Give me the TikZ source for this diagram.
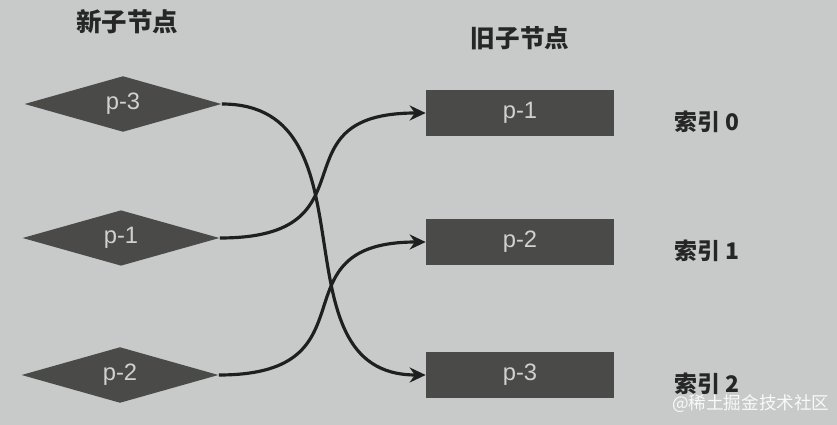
\documentclass[tikz,border=0pt]{standalone}
\usepackage{fontspec}
\setmainfont{Liberation Sans}
\newfontfamily\cjk{Noto Sans CJK SC}
\usetikzlibrary{shapes.geometric,arrows.meta}
\definecolor{paper}{RGB}{199,202,201}
\definecolor{ink}{RGB}{74,74,72}
\definecolor{pale}{RGB}{208,210,209}
\tikzset{
    newnode/.style={diamond, fill=ink, text=pale, inner sep=0pt,
        minimum width=3.94cm, minimum height=1.1cm, font=\fontsize{13.5}{15}\selectfont},
    oldnode/.style={rectangle, fill=ink, text=pale, inner sep=0pt,
        minimum width=3.76cm, minimum height=0.93cm, font=\fontsize{13.5}{15}\selectfont},
    link/.style={line width=1.8pt, draw=black!88, -{Stealth[length=0.32cm,width=0.3cm]}},
    caption/.style={text=black!85, font=\cjk\bfseries\fontsize{14.5}{16}\selectfont}
}
\begin{document}
\begin{tikzpicture}[x=0.02cm,y=-0.02cm]
    \fill[paper] (0,0) rectangle (837,425);

    % New children
    \node[caption] (newtitle) at (127,22) {新子节点};
    \node[newnode] (n3) at (123,104) {p-3};
    \node[newnode] (n1) at (121,238) {p-1};
    \node[newnode] (n2) at (120,375) {p-2};

    % Old children
    \node[caption, font=\cjk\bfseries\fontsize{14}{16}\selectfont] (oldtitle) at (520,38) {旧子节点};
    \foreach \i/\k/\y in {1/0/113,2/1/242,3/2/375} {
        \node[oldnode] (o\i) at (520,\y) {p-\i};
        \node[caption, anchor=west, font=\cjk\bfseries\fontsize{13}{15}\selectfont] (idx\k) at (668,\y+9) {索引 \k};
    }

    % Moves
    \draw[link] (n3.east) .. controls (380,104) and (270,375) .. (o3.west);
    \draw[link] (n1.east) .. controls (380,238) and (270,113) .. (o1.west);
    \draw[link] (n2.east) .. controls (380,375) and (270,242) .. (o2.west);

    % Watermark
    \node[anchor=west, text=white!88!paper, font=\cjk\fontsize{10}{12}\selectfont] (mark) at (666,404) {@稀土掘金技术社区};
\end{tikzpicture}
\end{document}
